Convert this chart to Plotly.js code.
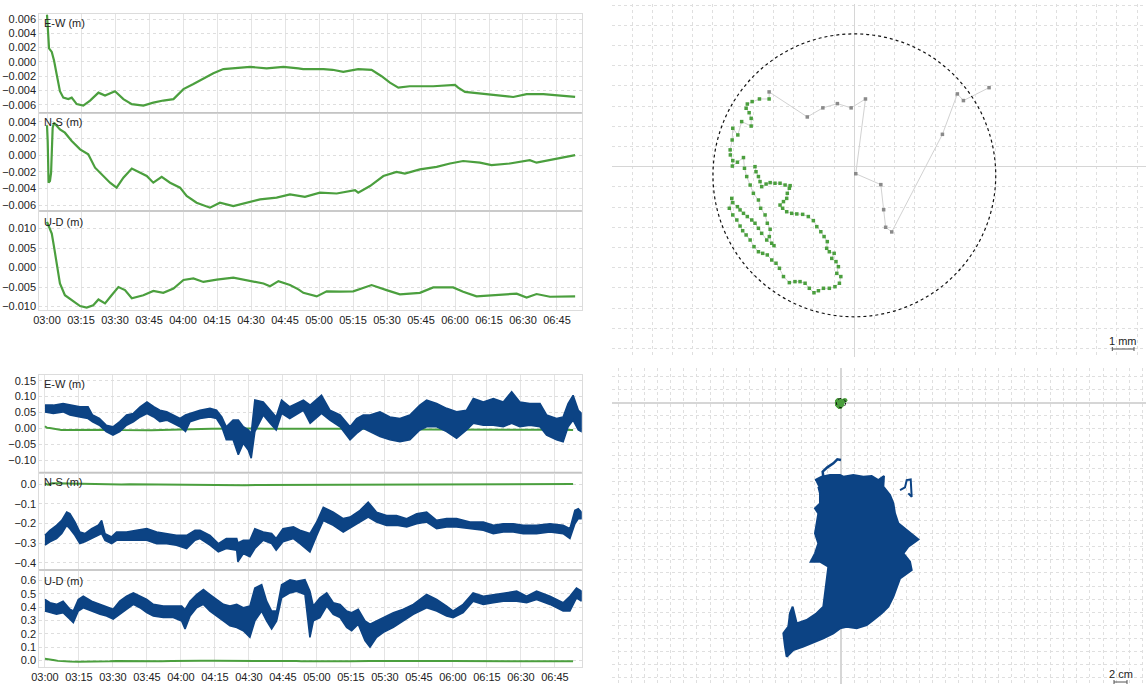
<!DOCTYPE html>
<html><head><meta charset="utf-8">
<script src="https://cdn.plot.ly/plotly-3.0.1.min.js"></script>
<style>html,body{margin:0;padding:0;background:#fff}#chart{width:1146px;height:684px}</style>
</head><body><div id="chart"></div>
<script>
// ===== DATA =====
// Converged solution (green), minutes after 03:00, metres
const ewGreenMin = [0,0.3,0.9,2.1,3.1,4.3,5.7,7.2,9.4,10.9,13.1,16.0,19.0,22.7,25.6,30.0,33.7,37.4,42.5,46.9,51.3,55.8,60.2,64.6,69.0,73.4,77.8,82.2,89.6,96.9,104.3,110.9,113,122,126,130.7,137.3,143.2,147.6,151.3,155,160,170.4,180,181.4,184.4,189.5,196.9,205.7,211.6,219,226.3,233];
const ewGreenVal = [0.0066,0.0045,0.0019,0.0014,0.0002,-0.0018,-0.0041,-0.0050,-0.0052,-0.0050,-0.0059,-0.0061,-0.0054,-0.0043,-0.0047,-0.0041,-0.0052,-0.0059,-0.0061,-0.0057,-0.0054,-0.0052,-0.0038,-0.0031,-0.0023,-0.0016,-0.0010,-0.0009,-0.0007,-0.0009,-0.0007,-0.0009,-0.0010,-0.0010,-0.0011,-0.0014,-0.0010,-0.0011,-0.0020,-0.0029,-0.0036,-0.0034,-0.0034,-0.0032,-0.0036,-0.0042,-0.0044,-0.0046,-0.0049,-0.0045,-0.0045,-0.0047,-0.0049];

const nsGreenMin = [0,0.3,0.7,1.3,1.8,2.5,3.1,4.6,5.7,7.9,10.9,14.6,18.2,21.2,24.1,27.8,30.7,33.7,37.4,41.0,44.0,46.9,50.6,54.3,58.7,61.6,66.0,71.9,76.3,82.2,88.1,94.0,101.3,107.2,113.8,120.4,127.8,135.9,137.3,142.5,148.4,154.2,157.9,164.5,171.9,177.8,183.6,191,196.1,204.2,213,216,223.3,233];
const nsGreenVal = [0.0036,0.0017,-0.0033,-0.0031,-0.0021,0.0033,0.0039,0.0034,0.0031,0.0027,0.0017,0.0007,0.0001,-0.0015,-0.0023,-0.0033,-0.0039,-0.0027,-0.0016,-0.0021,-0.0025,-0.0033,-0.0026,-0.0033,-0.0039,-0.0049,-0.0057,-0.0063,-0.0057,-0.0061,-0.0057,-0.0053,-0.0051,-0.0047,-0.0050,-0.0045,-0.0046,-0.0042,-0.0045,-0.0037,-0.0025,-0.0020,-0.0022,-0.0017,-0.0014,-0.0010,-0.0007,-0.0009,-0.0012,-0.0010,-0.0006,-0.0009,-0.0005,0.0000];

const udGreenMin = [0,1.0,2.1,3.1,4.3,5.7,7.9,10.9,14.6,17.5,20.4,22.7,25.6,28.5,31.5,34.4,37.4,42.5,46.9,51.3,55.8,60.2,64.6,69.0,74.9,82.2,88.1,95.5,98.4,102.1,107.2,110.9,113.1,119,123.4,129.3,135.1,143.2,149.8,155.7,164.5,170.4,179.2,183.6,189.5,198.3,207.2,211.6,216,221.9,233];
const udGreenVal = [0.0117,0.0104,0.0087,0.0053,0.0010,-0.0041,-0.0071,-0.0084,-0.0099,-0.0103,-0.0097,-0.0082,-0.0092,-0.0071,-0.0050,-0.0058,-0.0079,-0.0071,-0.0060,-0.0065,-0.0054,-0.0032,-0.0028,-0.0037,-0.0031,-0.0026,-0.0032,-0.0041,-0.0048,-0.0035,-0.0045,-0.0056,-0.0065,-0.0074,-0.0061,-0.0062,-0.0061,-0.0045,-0.0058,-0.0069,-0.0065,-0.0051,-0.0051,-0.0062,-0.0074,-0.0071,-0.0067,-0.0077,-0.0068,-0.0075,-0.0074];

// Unconverged solution (blue): upper / lower edge of the noisy band, metres
const ewBlueMin = [0,3.7,8,11,15.4,19,21,24,27,30,33,36,39,42,45,48,50.7,53.7,56.6,59.6,62,64,68.4,72.8,75.7,78,80,83,85.3,87.5,89.7,91,92.6,96.3,99.3,102,104.4,108,114,117,122,125.7,130.2,134.6,137.5,140.4,143.4,147.8,152.2,156.6,161,165.4,168.4,172.8,177.2,181.6,186,189,193.4,197.8,202.2,205.9,209.5,213.9,218.4,221.3,225.7,228.6,230.8,233,235.3,236.7];
const ewBlueHi = [0.073,0.073,0.078,0.073,0.068,0.068,0.042,0.031,0.010,0.005,0.021,0.042,0.047,0.068,0.083,0.068,0.057,0.052,0.042,0.031,0.042,0.047,0.057,0.063,0.057,0.036,0.005,0.026,0.026,0.005,-0.005,-0.016,0.089,0.083,0.057,0.036,0.089,0.068,0.089,0.073,0.104,0.057,0.042,0.005,0.031,0.042,0.042,0.052,0.036,0.031,0.042,0.073,0.089,0.078,0.063,0.052,0.057,0.094,0.083,0.094,0.083,0.115,0.083,0.078,0.078,0.042,0.031,0.036,0.078,0.104,0.057,0.047];
const ewBlueLo = [0.052,0.047,0.052,0.042,0.036,0.031,0.021,0.010,-0.010,-0.021,-0.010,0.010,0.021,0.036,0.047,0.036,0.021,0.026,0.016,0.005,-0.010,0.021,0.031,0.036,0.031,0.005,-0.036,-0.036,-0.083,-0.047,-0.068,-0.094,-0.010,0.042,0.016,-0.005,0.047,0.031,0.057,0.016,0.047,0.026,0.005,-0.036,-0.016,0.000,-0.010,-0.026,-0.036,-0.042,-0.036,-0.005,0.005,0.005,-0.010,-0.031,-0.005,0.016,0.010,0.010,0.005,0.016,0.005,0.010,0.005,-0.021,-0.036,-0.042,0.005,0.026,-0.005,-0.010];

const nsBlueMin = [0,2.2,5.1,7.4,9.6,11,13.2,15.4,17.6,20.6,23.5,25,26.5,29.4,31.6,36,40.4,44.9,49.3,53.7,58,62.5,66.2,68.4,72.8,76.5,80,84.6,85.1,87.5,90.4,92.6,96.3,100,102,105,109.6,112.5,116.9,119.9,122.8,127.2,131.6,134.6,139,142.6,146.3,150.7,155.1,159.6,164,168.4,172.8,177.2,181.6,187.5,193.4,197.8,202.2,206.6,211,216.9,222.8,228.6,231.6,233.8,235.3,236.7];
const nsBlueHi = [-0.261,-0.235,-0.210,-0.185,-0.143,-0.151,-0.193,-0.244,-0.252,-0.227,-0.210,-0.185,-0.252,-0.269,-0.244,-0.244,-0.235,-0.227,-0.244,-0.252,-0.261,-0.261,-0.235,-0.235,-0.261,-0.303,-0.277,-0.277,-0.300,-0.286,-0.286,-0.227,-0.244,-0.252,-0.277,-0.227,-0.218,-0.235,-0.252,-0.193,-0.118,-0.143,-0.176,-0.168,-0.134,-0.092,-0.143,-0.160,-0.160,-0.176,-0.151,-0.143,-0.185,-0.176,-0.176,-0.193,-0.193,-0.210,-0.202,-0.202,-0.210,-0.210,-0.202,-0.210,-0.227,-0.134,-0.126,-0.143];
const nsBlueLo = [-0.311,-0.294,-0.277,-0.252,-0.210,-0.227,-0.261,-0.303,-0.294,-0.277,-0.261,-0.252,-0.286,-0.303,-0.286,-0.286,-0.286,-0.286,-0.303,-0.303,-0.311,-0.328,-0.286,-0.277,-0.311,-0.345,-0.328,-0.336,-0.395,-0.353,-0.370,-0.328,-0.286,-0.303,-0.336,-0.294,-0.277,-0.303,-0.345,-0.261,-0.185,-0.210,-0.244,-0.227,-0.193,-0.168,-0.193,-0.210,-0.210,-0.218,-0.202,-0.193,-0.227,-0.218,-0.218,-0.227,-0.235,-0.252,-0.244,-0.244,-0.252,-0.252,-0.244,-0.252,-0.277,-0.202,-0.176,-0.176];

const udBlueMin = [0,2.2,5.1,8,11,12.5,14.7,16.9,20.6,24.3,27.2,30.1,33,36,39,41.9,44.9,47.8,52.2,56.6,60.3,61.8,64,66.9,69.9,72.8,75.7,78.7,81.6,84.6,87.5,90.4,92.6,95.6,97.8,100,102.2,104.4,108.1,111,114.7,116.9,118.4,121.3,124.3,127.2,130.2,133.1,135.3,138.2,141.2,143.4,146.3,149.3,153.7,158.1,162.5,168.4,172.8,177.2,180.1,184.5,188.9,193.4,197.8,202.2,208.1,212.5,216.9,222.8,228.6,231.6,234.5,236.7];
const udBlueHi = [0.457,0.432,0.420,0.444,0.383,0.370,0.457,0.481,0.444,0.420,0.407,0.383,0.444,0.481,0.506,0.481,0.457,0.420,0.407,0.407,0.407,0.380,0.444,0.494,0.531,0.494,0.457,0.420,0.407,0.420,0.395,0.407,0.543,0.568,0.444,0.370,0.370,0.568,0.605,0.593,0.605,0.519,0.407,0.469,0.506,0.432,0.420,0.370,0.358,0.383,0.296,0.272,0.296,0.321,0.358,0.383,0.420,0.494,0.457,0.407,0.370,0.420,0.506,0.481,0.494,0.506,0.519,0.481,0.519,0.481,0.432,0.481,0.543,0.519];
const udBlueLo = [0.370,0.358,0.346,0.358,0.309,0.284,0.370,0.395,0.370,0.346,0.333,0.309,0.346,0.383,0.420,0.395,0.358,0.333,0.321,0.321,0.296,0.235,0.333,0.395,0.420,0.370,0.333,0.296,0.259,0.247,0.222,0.173,0.296,0.370,0.296,0.235,0.296,0.469,0.506,0.519,0.494,0.173,0.296,0.321,0.407,0.346,0.321,0.247,0.222,0.272,0.148,0.099,0.173,0.210,0.247,0.296,0.346,0.395,0.370,0.333,0.321,0.358,0.444,0.420,0.432,0.444,0.444,0.432,0.457,0.420,0.370,0.370,0.469,0.444];

// Plan view of the converged track, millimetres (E-W, N-S)
const planEW = [6.67,5.40,5.10,4.36,1.85,1.55,1.45,1.31,0.07,0.55,-0.16,-0.84,-1.56,-2.33,-4.22,
 -4.22,-4.70,-5.06,-5.30,-5.36,-5.21,-5.11,-5.11,-5.58,-5.77,-6.02,-6.05,-6.15,-6.14,-6.02,-6.04,-5.79,-5.49,-5.44,-5.33,-5.16,-5.00,-4.75,-4.64,-4.42,-4.31,-4.17,-4.21,-4.09,-3.98,-4.34,-4.59,-4.75,-4.92,-5.08,-5.30,-5.49,-5.66,-5.79,-6.02,-6.07,-6.19,-6.02,-5.82,-5.66,-5.53,-5.36,-5.16,-4.97,-4.75,-4.54,-4.31,-4.09,-3.88,-3.71,-3.51,-3.22,-2.94,-2.69,-2.44,-2.23,-2.00,-1.78,-1.53,-1.24,-0.96,-0.74,-0.67,-0.87,-0.79,-0.91,-1.12,-1.00,-1.24,-1.37,-1.34,-1.50,-1.66,-1.86,-2.03,-2.28,-2.56,-2.85,-3.10,-3.35,-3.55,-3.68,-3.51,-3.35,-3.32,-3.22,-3.18,-3.43,-3.68,-3.93,-4.17,-4.37,-4.59,-4.67,-4.75,-4.87,-4.92];
const planNS = [3.91,3.27,3.60,1.60,-3.23,-3.00,-2.13,-0.89,-0.35,3.35,2.91,3.12,2.91,2.46,3.70,
 3.35,3.35,3.22,3.10,2.89,2.67,2.39,2.01,2.23,1.57,1.90,1.32,0.83,0.58,0.30,0.03,0.22,0.45,-0.08,-0.49,-0.91,-1.32,-1.65,-2.06,-2.39,-2.80,-3.10,-3.46,-3.79,-3.91,-3.63,-3.30,-3.05,-2.80,-2.64,-2.47,-2.31,-2.14,-1.98,-1.78,-1.57,-2.06,-2.39,-2.64,-2.94,-3.17,-3.38,-3.63,-3.96,-4.21,-4.29,-4.37,-4.62,-4.78,-5.03,-5.44,-5.74,-5.69,-5.69,-5.77,-6.02,-6.24,-6.14,-6.02,-6.02,-5.94,-5.77,-5.44,-5.28,-4.95,-4.70,-4.54,-4.29,-4.21,-4.04,-3.71,-3.46,-3.22,-2.97,-2.67,-2.47,-2.36,-2.34,-2.31,-2.23,-2.06,-1.90,-1.73,-1.57,-1.32,-1.07,-0.94,-0.91,-0.82,-0.82,-0.79,-0.86,-0.99,-0.74,-0.49,-0.25,0.00];
const convergedFromIndex = 15;       // first point drawn in green
const circleCenterEW = 0.0, circleCenterNS = -0.43, circleRadius = 7.0;   // mm

// Plan view of the unconverged solution: outline of the dense cloud, centimetres
const cloudEW = [-3.97,-2.95,-1.68,-0.15,0.36,1.88,3.41,4.68,5.70,6.56,6.46,7.48,7.99,8.24,8.75,10.03,11.81,10.28,9.52,10.53,10.79,9.01,8.50,7.99,7.23,6.21,4.94,3.92,2.39,0.87,-0.15,-1.17,-2.70,-4.48,-5.75,-7.28,-8.30,-8.55,-8.80,-8.04,-7.79,-7.38,-6.77,-5.24,-3.72,-2.70,-2.44,-2.09,-1.93,-3.21,-4.63,-3.97,-3.46,-3.97,-3.72,-3.46,-3.97,-3.21,-3.21,-3.46];
const cloudNS = [-11.81,-11.30,-11.04,-11.04,-11.30,-11.04,-11.30,-11.20,-11.81,-11.20,-12.82,-14.10,-15.37,-16.90,-18.42,-19.44,-20.87,-21.98,-23.00,-24.27,-25.55,-26.82,-28.09,-29.62,-31.15,-32.16,-33.18,-33.94,-34.45,-34.20,-34.45,-35.22,-35.98,-36.74,-37.25,-37.76,-38.78,-37.25,-35.22,-34.20,-32.16,-31.15,-33.69,-33.18,-32.16,-31.15,-29.11,-27.07,-25.04,-24.27,-24.27,-23.00,-21.48,-19.95,-18.42,-16.90,-16.13,-15.37,-13.84,-12.82];
const hookEW = [-2.70,-2.80,-2.09,-1.17,-0.56,0.00];
const hookNS = [-11.30,-10.53,-9.87,-9.26,-8.65,-8.75];
const spurEW = [9.01,9.77,10.03,10.64,10.79,10.28];
const spurNS = [-13.33,-12.93,-11.81,-11.71,-14.36,-13.84];

// ===== DRAWING =====
const W = 1146, H = 684;
const T0 = Date.UTC(2020, 0, 1, 3, 0, 0);
const toT = m => T0 + m * 60000;
const fx = p => p / W;
const fy = p => 1 - p / H;
const GREEN = '#4b9f3e', BLUE = '#0c4384';
const FONT = {family: 'Liberation Sans, Arial, sans-serif', size: 11, color: '#222'};

const traces = [];
function greenLine(mins, vals, xa, ya, w) {
  traces.push({type: 'scatter', mode: 'lines', x: mins.map(toT), y: vals, xaxis: xa, yaxis: ya,
    line: {color: GREEN, width: w}, hoverinfo: 'skip'});
}
function blueBand(mins, hi, lo, xa, ya) {
  const xs = mins.map(toT);
  traces.push({type: 'scatter', mode: 'lines', x: xs.concat(xs.slice().reverse()),
    y: hi.concat(lo.slice().reverse()), xaxis: xa, yaxis: ya, fill: 'toself',
    fillcolor: BLUE, line: {color: BLUE, width: 1.6}, hoverinfo: 'skip'});
}
// top-left
greenLine(ewGreenMin, ewGreenVal, 'x', 'y', 2.2);
greenLine(nsGreenMin, nsGreenVal, 'x2', 'y2', 2.2);
greenLine(udGreenMin, udGreenVal, 'x3', 'y3', 2.2);
// bottom-left
greenLine(ewGreenMin, ewGreenVal, 'x4', 'y4', 2);
blueBand(ewBlueMin, ewBlueHi, ewBlueLo, 'x4', 'y4');
greenLine(nsGreenMin, nsGreenVal, 'x5', 'y5', 2);
blueBand(nsBlueMin, nsBlueHi, nsBlueLo, 'x5', 'y5');
greenLine(udGreenMin, udGreenVal, 'x6', 'y6', 2);
blueBand(udBlueMin, udBlueHi, udBlueLo, 'x6', 'y6');

// top-right plan view (mm)
const markerCols = planEW.map((v, i) => i < convergedFromIndex ? '#8a8a8a' : GREEN);
traces.push({type: 'scatter', mode: 'lines+markers', x: planEW, y: planNS, xaxis: 'x7', yaxis: 'y7',
  line: {color: '#d2d2d2', width: 1}, marker: {color: markerCols, size: 3.5, symbol: 'square'}, hoverinfo: 'skip'});

// bottom-right plan view (cm)
traces.push({type: 'scatter', mode: 'lines', x: cloudEW, y: cloudNS, xaxis: 'x8', yaxis: 'y8',
  fill: 'toself', fillcolor: BLUE, line: {color: BLUE, width: 2}, hoverinfo: 'skip'});
traces.push({type: 'scatter', mode: 'lines', x: hookEW, y: hookNS, xaxis: 'x8', yaxis: 'y8',
  line: {color: BLUE, width: 2.5}, hoverinfo: 'skip'});
traces.push({type: 'scatter', mode: 'lines', x: spurEW, y: spurNS, xaxis: 'x8', yaxis: 'y8',
  line: {color: BLUE, width: 2}, hoverinfo: 'skip'});
traces.push({type: 'scatter', mode: 'markers', x: planEW.map(v => v / 10), y: planNS.map(v => v / 10),
  xaxis: 'x8', yaxis: 'y8', marker: {color: GREEN, size: 4}, hoverinfo: 'skip'});

// ----- axes -----
const LEFT = [39.3, 581.7];
const topRows = [[14, 112.7], [112.7, 211], [211, 310]];
const botRows = [[375, 472.5], [472.5, 570], [570, 667]];
const topRange = [toT(-3.4), toT(235.9)];
const botRange = [toT(-2.5), toT(236.8)];

function timeAxis(range, showLabels) {
  return {type: 'date', domain: [fx(LEFT[0]), fx(LEFT[1])], range: range, dtick: 900000,
    tick0: T0, tickformat: '%H:%M', showticklabels: showLabels, ticks: '', tickfont: FONT,
    showgrid: true, gridcolor: '#e4e4e4', gridwidth: 1, zeroline: false,
    showline: true, mirror: true, linecolor: '#dcdcdc', linewidth: 1, fixedrange: true};
}
function valAxis(row, range, dtick, fmt) {
  return {domain: [fy(row[1]), fy(row[0])], range: range, dtick: dtick, tick0: 0, tickformat: fmt,
    ticks: '', tickfont: FONT, showgrid: true, gridcolor: '#dedede', griddash: 'dot', gridwidth: 1,
    zeroline: false, showline: true, mirror: true, linecolor: '#dcdcdc', linewidth: 1, fixedrange: true};
}
function planAxis(dom, range, dtick) {
  return {domain: dom, range: range, dtick: dtick, tick0: 0, showticklabels: false, ticks: '',
    showgrid: true, gridcolor: '#dfdfdf', griddash: 'dot', gridwidth: 1,
    zeroline: true, zerolinecolor: '#d6d6d6', zerolinewidth: 1.6, showline: false, fixedrange: true};
}

const layout = {
  width: W, height: H, margin: {l: 0, r: 0, t: 0, b: 0}, showlegend: false,
  paper_bgcolor: '#fff', plot_bgcolor: '#fff', font: FONT,
  xaxis: Object.assign(timeAxis(topRange, false), {anchor: 'y'}),
  xaxis2: Object.assign(timeAxis(topRange, false), {anchor: 'y2'}),
  xaxis3: Object.assign(timeAxis(topRange, true), {anchor: 'y3'}),
  yaxis: Object.assign(valAxis(topRows[0], [-0.0071, 0.0067], 0.002, '.3f'), {anchor: 'x'}),
  yaxis2: Object.assign(valAxis(topRows[1], [-0.0067, 0.0051], 0.002, '.3f'), {anchor: 'x2'}),
  yaxis3: Object.assign(valAxis(topRows[2], [-0.0109, 0.0145], 0.005, '.3f'), {anchor: 'x3'}),
  xaxis4: Object.assign(timeAxis(botRange, false), {anchor: 'y4'}),
  xaxis5: Object.assign(timeAxis(botRange, false), {anchor: 'y5'}),
  xaxis6: Object.assign(timeAxis(botRange, true), {anchor: 'y6'}),
  yaxis4: Object.assign(valAxis(botRows[0], [-0.139, 0.168], 0.05, '.2f'), {anchor: 'x4'}),
  yaxis5: Object.assign(valAxis(botRows[1], [-0.437, 0.0585], 0.1, '.1f'), {anchor: 'x5'}),
  yaxis6: Object.assign(valAxis(botRows[2], [-0.05, 0.678], 0.1, '.1f'), {anchor: 'x6'}),
  xaxis7: Object.assign(planAxis([fx(612), 1], [-12.0, 14.44], 1), {anchor: 'y7'}),
  yaxis7: Object.assign(planAxis([fy(357), fy(4)], [-9.42, 8.05], 1), {anchor: 'x7'}),
  xaxis8: Object.assign(planAxis([fx(612), 1], [-34.96, 46.56], 2), {anchor: 'y8'}),
  yaxis8: Object.assign(planAxis([0, fy(368)], [-42.95, 5.3], 2), {anchor: 'x8'}),
  annotations: [],
  shapes: []
};

// panel labels
const labelText = ['E-W (m)', 'N-S (m)', 'U-D (m)'];
const labelY = [[23, 121.7, 221.7], [384, 482.5, 580.5]];
labelY.forEach(rowYs => rowYs.forEach((py, i) => layout.annotations.push({
  xref: 'paper', yref: 'paper', x: fx(41.7), y: fy(py), xanchor: 'left', yanchor: 'middle',
  text: labelText[i], showarrow: false, font: FONT})));

// panel separators
[112.7, 211, 472.5, 570].forEach(py => layout.shapes.push({type: 'line', xref: 'paper', yref: 'paper',
  x0: fx(LEFT[0]), x1: fx(LEFT[1]), y0: fy(py), y1: fy(py), line: {color: '#c4c4c4', width: 1.5}}));

// accuracy circles
layout.shapes.push({type: 'circle', xref: 'x7', yref: 'y7',
  x0: circleCenterEW - circleRadius, x1: circleCenterEW + circleRadius,
  y0: circleCenterNS - circleRadius, y1: circleCenterNS + circleRadius,
  line: {color: '#111', width: 1.2, dash: 'dot'}});
layout.shapes.push({type: 'circle', xref: 'x8', yref: 'y8',
  x0: (circleCenterEW - circleRadius) / 10, x1: (circleCenterEW + circleRadius) / 10,
  y0: (circleCenterNS - circleRadius) / 10, y1: (circleCenterNS + circleRadius) / 10,
  line: {color: '#111', width: 1, dash: 'dot'}});

// scale bars
function scaleBar(x0, x1, py) {
  layout.shapes.push({type: 'line', xref: 'paper', yref: 'paper', x0: fx(x0), x1: fx(x1), y0: fy(py), y1: fy(py), line: {color: '#555', width: 1}});
  [x0, x1].forEach(px => layout.shapes.push({type: 'line', xref: 'paper', yref: 'paper', x0: fx(px), x1: fx(px), y0: fy(py - 2), y1: fy(py + 2), line: {color: '#555', width: 1}}));
}
scaleBar(1112.3, 1134, 349);
scaleBar(1114, 1127, 682);
layout.annotations.push({xref: 'paper', yref: 'paper', x: fx(1123.3), y: fy(341), xanchor: 'center', yanchor: 'middle', text: '1 mm', showarrow: false, font: FONT});
layout.annotations.push({xref: 'paper', yref: 'paper', x: fx(1120.5), y: fy(673.5), xanchor: 'center', yanchor: 'middle', text: '2 cm', showarrow: false, font: FONT});

Plotly.newPlot('chart', traces, layout, {staticPlot: true, displayModeBar: false});
</script></body></html>
